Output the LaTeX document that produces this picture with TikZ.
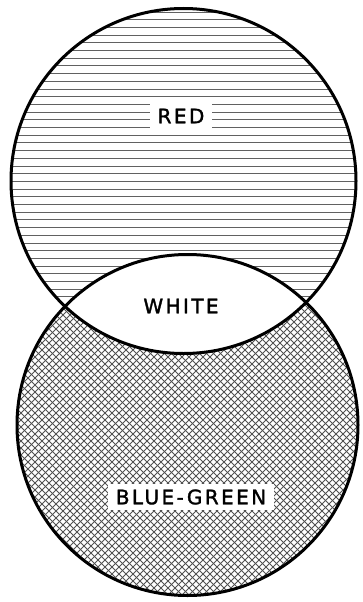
\documentclass[tikz,border=0pt]{standalone}
\usepackage{fontspec}
\newfontfamily\labelfont[LetterSpace=12,FakeBold=1.6]{DejaVu Sans}
\begin{document}
\begin{tikzpicture}[x=1pt,y=-1pt,
  outline/.style={draw=black,line width=3pt},
  hline/.style={draw=black!62,line width=0.95pt},
  xline/.style={draw=black!68,line width=1pt},
  lbl/.style={fill=white,inner xsep=8pt,inner ysep=5pt,font=\labelfont\fontsize{20}{20}\selectfont,text=black}]
\useasboundingbox (0,0) rectangle (363,602);
\def\topc{(183.5,181) circle[radius=172.5]}
\def\botc{(187.5,425) circle[radius=170.5]}
% horizontal hatching of the red circle
\begin{scope}
  \clip \topc;
  \foreach \y in {12,19.7,...,356} { \draw[hline] (0,\y) -- (363,\y); }
\end{scope}
% blue-green circle, cross hatched
\fill[white] \botc;
\begin{scope}
  \clip \botc;
  \foreach \c in {-420,-413,...,380} { \draw[xline] (\c,245) -- ++(380,380); }
  \foreach \c in {0,7,...,800} { \draw[xline] (\c,245) -- ++(-380,380); }
  \fill[white] \topc;
\end{scope}
% outlines
\draw[outline] \topc;
\draw[outline] \botc;
% labels
\node[lbl] (red) at (181,116) {RED};
\node[lbl,fill=none] (white) at (181,306) {WHITE};
\node[lbl] (bg) at (191,497) {BLUE-GREEN};
\end{tikzpicture}
\end{document}
